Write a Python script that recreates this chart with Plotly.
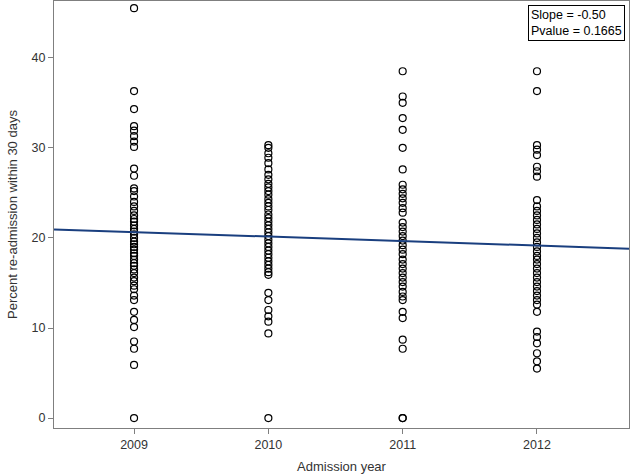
import plotly.graph_objects as go

years = [2009, 2010, 2011, 2012]

y2009 = [45.5, 36.3, 34.3, 32.4, 31.9, 31.3, 30.7, 30.1, 27.7, 26.9, 25.5, 25.2, 24.6, 24.0,
         23.5, 23.0, 22.5, 22.1, 21.8, 21.4, 21.0, 20.7, 20.4, 20.0, 19.6, 19.3, 19.0, 18.7,
         18.3, 18.0, 17.6, 17.2, 16.9, 16.5, 16.1, 15.6, 15.2, 14.7, 14.3, 13.6, 13.1, 11.8,
         10.9, 10.1, 8.5, 7.7, 5.9, 0.0]
y2010 = [30.3, 30.0, 29.4, 28.9, 28.3, 27.6, 27.0, 26.5, 26.0, 25.6, 25.2, 24.8, 24.3, 23.9,
         23.5, 23.1, 22.6, 22.2, 21.8, 21.4, 21.0, 20.6, 20.2, 19.8, 19.4, 19.0, 18.6, 18.2,
         17.8, 17.4, 17.0, 16.6, 16.2, 15.9, 13.9, 13.1, 12.0, 11.3, 10.7, 9.4, 0.0]
y2011 = [38.5, 35.7, 35.0, 33.3, 32.0, 30.0, 27.6, 25.9, 25.4, 24.9, 24.4, 23.9, 23.3, 22.8,
         21.7, 21.2, 20.7, 20.2, 19.7, 19.2, 18.7, 18.2, 17.6, 17.1, 16.6, 16.1, 15.6, 15.1,
         14.6, 14.0, 13.5, 13.1, 11.8, 11.1, 8.7, 7.7, 0.0, 0.0]
y2012 = [38.5, 36.3, 30.3, 29.8, 29.2, 27.9, 27.4, 26.8, 24.2, 23.5, 23.0, 22.5, 22.0, 21.5,
         21.0, 20.5, 20.0, 19.5, 19.0, 18.5, 18.0, 17.6, 17.1, 16.6, 16.1, 15.6, 15.1, 14.6,
         14.1, 13.6, 13.1, 12.6, 11.8, 9.6, 9.0, 8.3, 7.2, 6.3, 5.5]

slope = -0.50
intercept_2009 = 20.65
pvalue = 0.1665
x_range = [2008.404, 2012.685]
y_range = [-1.1, 46.3]

xs, ys = [], []
for yr, vals in zip(years, [y2009, y2010, y2011, y2012]):
    xs += [yr] * len(vals)
    ys += vals

FONT = "Liberation Sans, Arial"

fig = go.Figure()
fig.add_trace(go.Scatter(
    x=xs, y=ys, mode="markers",
    marker=dict(symbol="circle-open", size=7, color="black", line=dict(width=1.2, color="black")),
    showlegend=False, hoverinfo="skip"))

line_x = x_range
line_y = [intercept_2009 + slope * (v - 2009) for v in line_x]
fig.add_trace(go.Scatter(x=line_x, y=line_y, mode="lines",
                         line=dict(color="#1a3f7f", width=2), showlegend=False))

fig.add_annotation(
    xref="paper", yref="paper", x=0.993, y=0.991, xanchor="right", yanchor="top",
    text=f"Slope = {slope:.2f}<br>Pvalue = {pvalue:.4f}", showarrow=False, align="left",
    font=dict(family=FONT, size=12.5, color="black"),
    bordercolor="black", borderwidth=1, borderpad=2, bgcolor="white")

axis_common = dict(showgrid=False, zeroline=False, showline=True, linecolor="#7f7f7f",
                   linewidth=1, mirror=True, ticks="outside", ticklen=5, tickcolor="#7f7f7f",
                   tickfont=dict(family=FONT, size=12.5, color="#333333"))

fig.update_layout(
    width=630, height=476,
    margin=dict(l=54, r=1, t=1, b=48),
    paper_bgcolor="white", plot_bgcolor="white",
    xaxis=dict(range=x_range, tickvals=years, ticktext=[str(y) for y in years],
               title=dict(text="Admission year", standoff=10,
                          font=dict(family=FONT, size=13, color="#333333")),
               **axis_common),
    yaxis=dict(range=y_range, tickvals=[0, 10, 20, 30, 40],
               title=dict(text="Percent re-admission within 30 days", standoff=11,
                          font=dict(family=FONT, size=13, color="#333333")),
               **axis_common),
)

fig.write_html("out.html", config={"displayModeBar": False},
               post_script="document.body.style.margin='0';document.body.style.overflow='hidden';")
